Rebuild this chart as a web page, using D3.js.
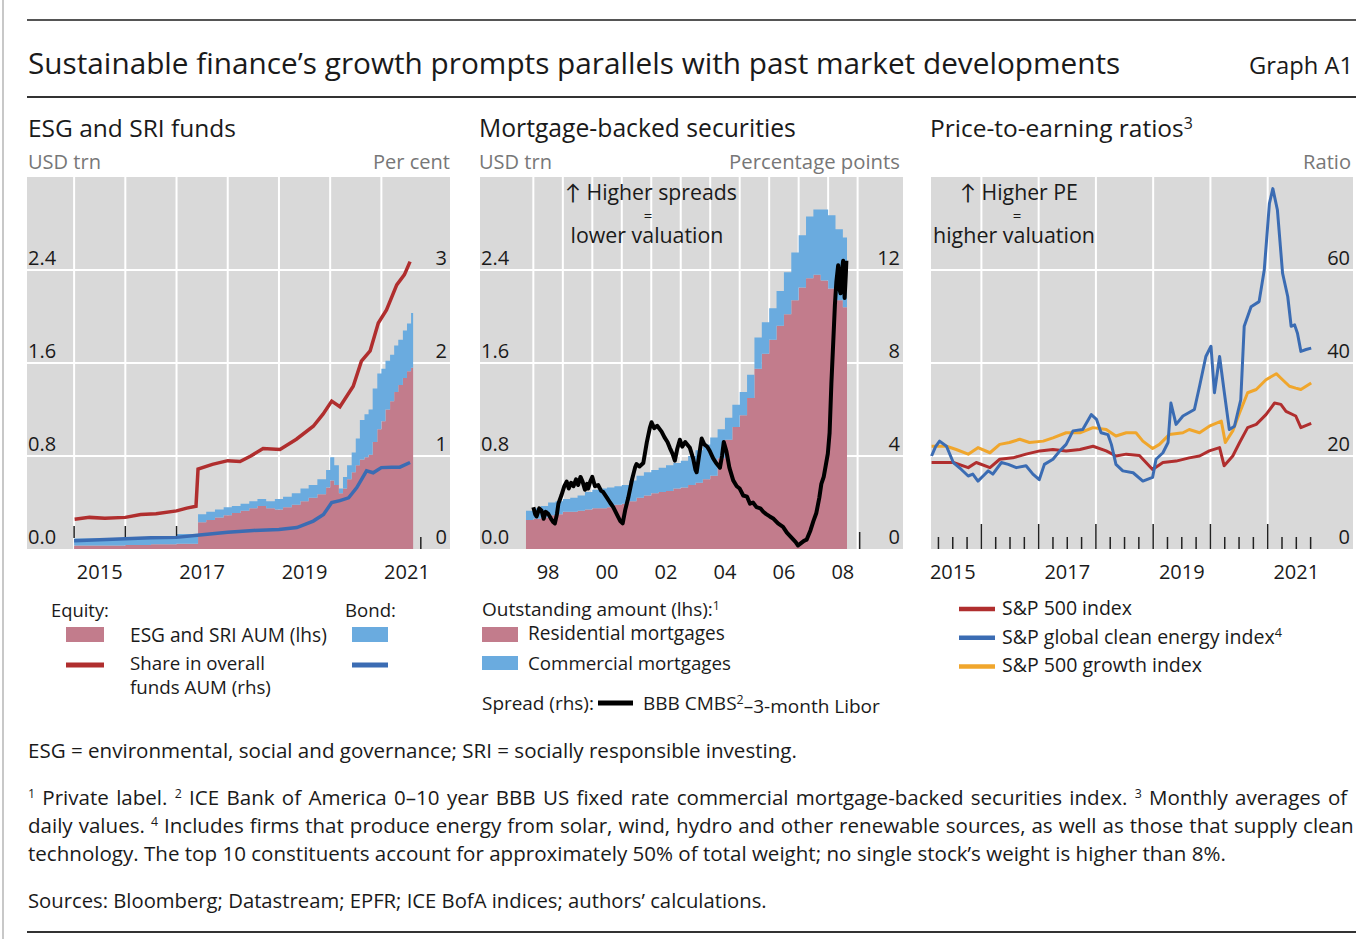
<!DOCTYPE html>
<html>
<head>
<meta charset="utf-8">
<script src="https://cdn.jsdelivr.net/npm/d3@7"></script>
<style>
  body { margin: 0; background: #fff; }
  svg text { font-family: "Open Sans", Lato, sans-serif; fill: #1a1a1a; }
</style>
</head>
<body>
<svg id="chart" width="1368" height="939"></svg>
<script>

// ---------- ESG and SRI funds (USD trn lhs, per cent rhs) ----------
var esgDates = [2015.0, 2015.5, 2016.0, 2016.5, 2017.0, 2017.42, 2017.58, 2017.75, 2017.92, 2018.08,
	2018.25, 2018.42, 2018.58, 2018.75, 2018.92, 2019.08, 2019.25, 2019.42, 2019.58, 2019.75,
	2019.92, 2020.0, 2020.08, 2020.17, 2020.25, 2020.33, 2020.42, 2020.5, 2020.58, 2020.67,
	2020.75, 2020.83, 2020.92, 2021.0, 2021.08, 2021.17, 2021.25, 2021.33, 2021.42, 2021.5, 2021.58];
var esgEnd = 2021.62;
var equityAum = [0.03, 0.03, 0.035, 0.04, 0.045, 0.23, 0.25, 0.27, 0.29, 0.31,
	0.33, 0.35, 0.37, 0.35, 0.34, 0.36, 0.38, 0.41, 0.44, 0.47,
	0.53, 0.59, 0.55, 0.48, 0.52, 0.60, 0.66, 0.72, 0.77, 0.79,
	0.81, 0.92, 1.03, 1.10, 1.20, 1.27, 1.35, 1.41, 1.47, 1.53, 1.56];
var bondAum = [0.06, 0.06, 0.065, 0.07, 0.085, 0.07, 0.07, 0.07, 0.07, 0.06,
	0.06, 0.06, 0.06, 0.06, 0.09, 0.09, 0.10, 0.11, 0.11, 0.13,
	0.15, 0.20, 0.17, 0.04, 0.10, 0.12, 0.17, 0.23, 0.34, 0.37,
	0.39, 0.46, 0.48, 0.45, 0.42, 0.40, 0.40, 0.39, 0.41, 0.41, 0.47];
var equityShare = [[2015.01, 0.32], [2015.3, 0.34], [2015.6, 0.33], [2016.0, 0.34], [2016.3, 0.37],
	[2016.6, 0.38], [2017.0, 0.41], [2017.2, 0.44], [2017.38, 0.46], [2017.42, 0.86], [2017.7, 0.91],
	[2018.0, 0.95], [2018.24, 0.94], [2018.45, 1.0], [2018.69, 1.08], [2019.02, 1.07], [2019.34, 1.18],
	[2019.67, 1.32], [2019.86, 1.45], [2020.03, 1.59], [2020.19, 1.53], [2020.45, 1.75], [2020.61, 2.02],
	[2020.78, 2.13], [2020.94, 2.43], [2021.1, 2.57], [2021.3, 2.84], [2021.45, 2.95], [2021.56, 3.09]];
var bondShare = [[2015.0, 0.09], [2015.5, 0.10], [2016.0, 0.11], [2016.5, 0.12], [2017.0, 0.125],
	[2017.45, 0.15], [2018.0, 0.18], [2018.5, 0.20], [2019.0, 0.21], [2019.35, 0.23], [2019.67, 0.30],
	[2019.87, 0.37], [2020.03, 0.50], [2020.19, 0.52], [2020.36, 0.55], [2020.52, 0.66], [2020.71, 0.84],
	[2020.84, 0.82], [2021.0, 0.875], [2021.2, 0.88], [2021.36, 0.88], [2021.56, 0.93]];

// ---------- Mortgage-backed securities (USD trn lhs, pp rhs) ----------
var mbsDates = [1997.75, 1998.0, 1998.25, 1998.5, 1998.75, 1999.0, 1999.25, 1999.5, 1999.75, 2000.0,
	2000.25, 2000.5, 2000.75, 2001.0, 2001.25, 2001.5, 2001.75, 2002.0, 2002.25, 2002.5,
	2002.75, 2003.0, 2003.25, 2003.5, 2003.75, 2004.0, 2004.25, 2004.5, 2004.75, 2005.0,
	2005.25, 2005.5, 2005.75, 2006.0, 2006.25, 2006.5, 2006.75, 2007.0, 2007.25, 2007.5,
	2007.75, 2008.0, 2008.25, 2008.5];
var mbsEnd = 2008.64;
var residentialMbs = [0.25, 0.26, 0.27, 0.29, 0.30, 0.32, 0.32, 0.33, 0.34, 0.35,
	0.35, 0.36, 0.38, 0.39, 0.41, 0.44, 0.46, 0.48, 0.49, 0.50,
	0.52, 0.53, 0.55, 0.57, 0.60, 0.63, 0.78, 0.94, 1.05, 1.15,
	1.30, 1.55, 1.68, 1.80, 1.92, 2.02, 2.14, 2.25, 2.33, 2.36,
	2.31, 2.24, 2.14, 2.08];
var commercialMbs = [0.08, 0.09, 0.10, 0.11, 0.11, 0.11, 0.12, 0.13, 0.15, 0.16,
	0.17, 0.17, 0.16, 0.16, 0.18, 0.19, 0.20, 0.20, 0.21, 0.22,
	0.22, 0.23, 0.25, 0.28, 0.30, 0.33, 0.25, 0.19, 0.19, 0.20,
	0.20, 0.27, 0.27, 0.27, 0.30, 0.36, 0.41, 0.45, 0.53, 0.56,
	0.61, 0.63, 0.61, 0.60];
var cmbsSpread = [[1998.0, 1.8], [1998.06, 1.5], [1998.11, 1.4], [1998.2, 1.75], [1998.28, 1.65],
	[1998.35, 1.3], [1998.42, 1.6], [1998.51, 1.5], [1998.6, 1.3], [1998.68, 1.15], [1998.73, 1.1],
	[1998.8, 1.5], [1998.85, 1.95], [1998.95, 2.3], [1999.05, 2.7], [1999.13, 2.9], [1999.2, 2.6],
	[1999.28, 2.85], [1999.36, 2.7], [1999.45, 3.0], [1999.52, 2.75], [1999.6, 3.1], [1999.67, 2.9],
	[1999.75, 2.55], [1999.82, 2.8], [1999.86, 2.6], [1999.93, 2.9], [2000.0, 3.1], [2000.09, 2.7],
	[2000.2, 2.75], [2000.3, 2.5], [2000.37, 2.45], [2000.5, 2.2], [2000.6, 2.0], [2000.71, 1.8],
	[2000.85, 1.45], [2000.95, 1.2], [2001.03, 1.1], [2001.12, 1.7], [2001.22, 2.2], [2001.35, 3.0],
	[2001.45, 3.5], [2001.5, 3.65], [2001.6, 3.55], [2001.73, 3.7], [2001.85, 4.6], [2001.95, 5.2],
	[2002.01, 5.45], [2002.1, 5.2], [2002.2, 5.3], [2002.35, 5.05], [2002.45, 4.8], [2002.55, 4.6],
	[2002.63, 4.35], [2002.72, 4.1], [2002.8, 3.8], [2002.88, 4.3], [2002.97, 4.7], [2003.05, 4.4],
	[2003.15, 4.6], [2003.31, 4.35], [2003.42, 3.9], [2003.5, 3.4], [2003.54, 3.3], [2003.62, 4.0],
	[2003.71, 4.75], [2003.8, 4.5], [2003.9, 4.4], [2003.99, 4.2], [2004.1, 3.9], [2004.2, 3.7],
	[2004.33, 3.5], [2004.4, 4.0], [2004.46, 4.6], [2004.55, 4.2], [2004.65, 3.5], [2004.78, 2.95],
	[2004.9, 2.7], [2005.0, 2.6], [2005.12, 2.3], [2005.25, 2.25], [2005.35, 1.95], [2005.45, 2.0],
	[2005.57, 1.8], [2005.7, 1.75], [2005.8, 1.6], [2005.9, 1.5], [2006.02, 1.4], [2006.15, 1.3],
	[2006.3, 1.1], [2006.47, 0.95], [2006.6, 0.7], [2006.75, 0.5], [2006.9, 0.3], [2006.98, 0.15],
	[2007.08, 0.25], [2007.18, 0.35], [2007.27, 0.4], [2007.4, 0.8], [2007.5, 1.2], [2007.6, 1.55],
	[2007.7, 2.2], [2007.77, 2.8], [2007.85, 3.1], [2007.92, 3.6], [2007.99, 4.1], [2008.05, 5.0],
	[2008.11, 7.1], [2008.17, 8.8], [2008.23, 10.5], [2008.28, 11.5], [2008.34, 12.2], [2008.38, 11.2],
	[2008.42, 11.0], [2008.47, 12.0], [2008.51, 12.4], [2008.56, 10.8], [2008.6, 11.8], [2008.62, 12.4]];

// ---------- Price-to-earning ratios ----------
var sp500Pe = [[2015.13, 18.6], [2015.51, 18.6], [2015.77, 17.5], [2015.91, 18.6], [2016.15, 17.5],
	[2016.32, 19.3], [2016.55, 19.6], [2016.78, 20.4], [2017.02, 21.1], [2017.25, 21.4], [2017.48, 21.1],
	[2017.72, 21.4], [2017.95, 22.1], [2018.18, 21.1], [2018.35, 20.0], [2018.53, 20.4], [2018.76, 20.1],
	[2018.99, 17.1], [2019.17, 18.6], [2019.4, 18.9], [2019.63, 19.6], [2019.81, 20.0], [2019.98, 21.1],
	[2020.16, 21.8], [2020.24, 17.9], [2020.39, 20.0], [2020.51, 22.9], [2020.65, 26.1], [2020.8, 26.8],
	[2020.97, 28.9], [2021.12, 31.4], [2021.23, 31.1], [2021.32, 29.6], [2021.49, 28.6], [2021.58, 26.1],
	[2021.76, 27.0]];
var cleanEnergyPe = [[2015.13, 20.0], [2015.2, 22.0], [2015.27, 23.2], [2015.39, 22.1], [2015.51, 18.6],
	[2015.65, 17.1], [2015.77, 15.7], [2015.85, 16.1], [2015.94, 14.6], [2016.03, 15.7], [2016.12, 16.8],
	[2016.2, 16.1], [2016.35, 18.6], [2016.47, 18.2], [2016.61, 17.5], [2016.78, 17.9], [2016.9, 16.1],
	[2017.01, 14.9], [2017.1, 18.2], [2017.25, 19.3], [2017.37, 21.1], [2017.48, 22.5], [2017.6, 25.4],
	[2017.77, 25.7], [2017.92, 28.9], [2018.01, 27.9], [2018.09, 25.0], [2018.21, 24.6], [2018.27, 22.5],
	[2018.35, 18.2], [2018.47, 16.8], [2018.65, 16.4], [2018.82, 14.6], [2018.99, 15.4], [2019.05, 19.3],
	[2019.17, 20.7], [2019.26, 22.9], [2019.31, 31.4], [2019.4, 26.8], [2019.52, 28.6], [2019.72, 30.0],
	[2019.81, 35.0], [2019.92, 41.4], [2020.01, 43.6], [2020.07, 33.6], [2020.16, 41.4], [2020.24, 33.9],
	[2020.33, 25.7], [2020.42, 26.4], [2020.53, 32.1], [2020.59, 47.9], [2020.71, 52.1], [2020.85, 53.2],
	[2020.94, 60.0], [2021.03, 74.3], [2021.09, 77.5], [2021.17, 72.9], [2021.26, 59.3], [2021.35, 54.3],
	[2021.41, 47.9], [2021.47, 48.2], [2021.52, 46.4], [2021.58, 42.5], [2021.67, 42.9], [2021.76, 43.2]];
var sp500GrowthPe = [[2015.13, 22.1], [2015.39, 22.1], [2015.56, 21.4], [2015.77, 20.4], [2015.94, 21.8],
	[2016.15, 20.7], [2016.32, 22.5], [2016.49, 22.9], [2016.67, 23.6], [2016.84, 22.9], [2017.08, 23.2],
	[2017.25, 23.9], [2017.48, 25.0], [2017.72, 25.0], [2017.95, 26.1], [2018.18, 25.7], [2018.35, 24.3],
	[2018.53, 25.0], [2018.7, 25.0], [2018.82, 23.2], [2018.99, 21.6], [2019.11, 22.5], [2019.28, 24.6],
	[2019.52, 25.0], [2019.63, 25.7], [2019.81, 25.0], [2019.98, 26.4], [2020.19, 27.5], [2020.26, 22.9],
	[2020.39, 25.4], [2020.51, 29.3], [2020.65, 33.6], [2020.8, 34.3], [2020.97, 36.4], [2021.15, 37.7],
	[2021.26, 36.4], [2021.38, 35.0], [2021.49, 34.6], [2021.58, 34.3], [2021.76, 35.7]];

// axis ticks / labels
var usdTicks = [0, 0.8, 1.6, 2.4];
var shareTicks = [0, 1, 2, 3];
var spreadTicks = [0, 4, 8, 12];
var peTicks = [0, 20, 40, 60];
var esgYearLabels = ["2015", "2017", "2019", "2021"];
var mbsYearLabels = ["98", "00", "02", "04", "06", "08"];
var peYearLabels = ["2015", "2017", "2019", "2021"];

var colors = {
	pink: "#c27c8c", lightBlue: "#6aabdf", red: "#b02e2e", blue: "#3b6cb3",
	orange: "#f0a62c", bg: "#d9d9d9", ink: "#1a1a1a", unit: "#777"
};

var svg = d3.select("#chart");
var TOP = 177, BOTTOM = 549;

function txt(x, y, s, size, anchor, fill) {
	return svg.append("text").attr("x", x).attr("y", y).attr("font-size", size)
		.attr("text-anchor", anchor || "start").style("fill", fill || colors.ink).text(s);
}
function sup(t, s) {
	t.append("tspan").attr("font-size", "0.65em").attr("dy", "-0.5em").text(s);
	return t;
}
// scale the font so the text takes the same width as in the print
function fit(t, w) {
	var cur = t.node().getComputedTextLength();
	t.attr("font-size", +t.attr("font-size") * w / cur);
	return t;
}
// spread the words so a footnote line fills the column
function justify(t, w) {
	var cur = t.node().getComputedTextLength();
	var spaces = (t.text().match(/ /g) || []).length;
	t.attr("word-spacing", (w - cur) / spaces);
	return t;
}

// frame: page rules
svg.append("line").attr("x1", 3).attr("x2", 3).attr("y1", 0).attr("y2", 939).attr("stroke", "#c8c8c8").attr("stroke-width", 2);
[20, 97, 932].forEach(function (y) {
	svg.append("line").attr("x1", 27).attr("x2", 1356).attr("y1", y).attr("y2", y)
		.attr("stroke", y == 20 ? "#555" : "#333").attr("stroke-width", 2);
});

fit(txt(28, 74, "Sustainable finance\u2019s growth prompts parallels with past market developments", 30), 1093);
fit(txt(1353, 74, "Graph A1", 24, "end"), 104);

// generic plot panel
function plotPanel(left, right, xDomain, yDomainL, yDomainR) {
	var x = d3.scaleLinear().domain(xDomain).range([left, right]);
	var yL = d3.scaleLinear().domain(yDomainL).range([BOTTOM, TOP]);
	var yR = d3.scaleLinear().domain(yDomainR).range([BOTTOM, TOP]);
	var g = svg.append("g");
	g.append("rect").attr("x", left).attr("y", TOP).attr("width", right - left).attr("height", BOTTOM - TOP)
		.attr("fill", colors.bg);
	return { x: x, yL: yL, yR: yR, g: g, left: left, right: right };
}
function grid(p, years, yVals) {
	p.g.selectAll(null).data(years).enter().append("line")
		.attr("x1", p.x).attr("x2", p.x).attr("y1", TOP).attr("y2", BOTTOM)
		.attr("stroke", "#fff").attr("stroke-width", 2);
	p.g.selectAll(null).data(yVals).enter().append("line")
		.attr("x1", p.left).attr("x2", p.right).attr("y1", p.yL).attr("y2", p.yL)
		.attr("stroke", "#fff").attr("stroke-width", 2);
}
function axisLabels(p, leftTicks, rightTicks, rightScale, yearLabels, yearPos) {
	if (leftTicks) leftTicks.forEach(function (v) {
		txt(p.left + 1, p.yL(v) - 5, d3.format(".1f")(v), 20);
	});
	rightTicks.forEach(function (v) {
		txt(p.right - 3, rightScale(v) - 5, v, 20, "end");
	});
	yearLabels.forEach(function (s, i) {
		txt(p.x(yearPos[i]), 579, s, 20, "middle");
	});
}

// ===== Panel 1 =====
fit(txt(28, 137, "ESG and SRI funds", 24), 208);
fit(txt(28, 169, "USD trn", 18, "start", colors.unit), 73);
fit(txt(450, 169, "Per cent", 18, "end", colors.unit), 77);

var p1 = plotPanel(27, 450, [2014.08, 2022.34], [0, 3.2], [0, 4]);
grid(p1, d3.range(2015, 2022), [0.8, 1.6, 2.4]);

var esgRows = esgDates.map(function (d, i) { return { date: d, equity: equityAum[i], bond: bondAum[i] }; });
esgRows.push({ date: esgEnd, equity: equityAum[equityAum.length - 1], bond: bondAum[bondAum.length - 1] });
var esgStack = d3.stack().keys(["equity", "bond"])(esgRows);
var esgArea = d3.area().curve(d3.curveStepAfter)
	.x(function (d) { return p1.x(d.data.date); })
	.y0(function (d) { return p1.yL(d[0]); })
	.y1(function (d) { return p1.yL(d[1]); });
p1.g.selectAll(null).data(esgStack).enter().append("path")
	.attr("d", esgArea)
	.attr("fill", function (d) { return d.key == "equity" ? colors.pink : colors.lightBlue; });

// stray axis ticks
[2015, 2016, 2017].forEach(function (yr) {
	p1.g.append("line").attr("x1", p1.x(yr)).attr("x2", p1.x(yr)).attr("y1", 526).attr("y2", 538)
		.attr("stroke", "#222").attr("stroke-width", 1.5);
});
p1.g.append("line").attr("x1", p1.x(2021.77)).attr("x2", p1.x(2021.77)).attr("y1", 537).attr("y2", 549)
	.attr("stroke", "#222").attr("stroke-width", 1.5);

var shareLine = d3.line()
	.x(function (d) { return p1.x(d[0]); })
	.y(function (d) { return p1.yR(d[1]); });
p1.g.append("path").attr("d", shareLine(bondShare)).attr("fill", "none")
	.attr("stroke", colors.blue).attr("stroke-width", 3.5);
p1.g.append("path").attr("d", shareLine(equityShare)).attr("fill", "none")
	.attr("stroke", colors.red).attr("stroke-width", 3.5);

axisLabels(p1, usdTicks, shareTicks, p1.yR, esgYearLabels, [2015.5, 2017.5, 2019.5, 2021.5]);

// legend panel 1
fit(txt(51, 617, "Equity:", 18), 58);
fit(txt(345, 617, "Bond:", 18), 51);
svg.append("rect").attr("x", 66).attr("y", 627).attr("width", 38).attr("height", 15).attr("fill", colors.pink);
svg.append("rect").attr("x", 352).attr("y", 627).attr("width", 36).attr("height", 15).attr("fill", colors.lightBlue);
fit(txt(130, 642, "ESG and SRI AUM (lhs)", 18), 197);
svg.append("line").attr("x1", 66).attr("x2", 104).attr("y1", 665).attr("y2", 665).attr("stroke", colors.red).attr("stroke-width", 5);
svg.append("line").attr("x1", 352).attr("x2", 388).attr("y1", 665).attr("y2", 665).attr("stroke", colors.blue).attr("stroke-width", 5);
fit(txt(130, 670, "Share in overall", 18), 135);
fit(txt(130, 694, "funds AUM (rhs)", 18), 141);

// ===== Panel 2 =====
fit(txt(479, 137, "Mortgage-backed securities", 24), 317);
fit(txt(479, 169, "USD trn", 18, "start", colors.unit), 73);
fit(txt(900, 169, "Percentage points", 18, "end", colors.unit), 171);

var p2 = plotPanel(480, 903, [1996.19, 2010.54], [0, 3.2], [0, 16]);
grid(p2, d3.range(1998, 2010), [0.8, 1.6, 2.4]);

var mbsRows = mbsDates.map(function (d, i) { return { date: d, res: residentialMbs[i], com: commercialMbs[i] }; });
mbsRows.push({ date: mbsEnd, res: residentialMbs[residentialMbs.length - 1], com: commercialMbs[commercialMbs.length - 1] });
var mbsStack = d3.stack().keys(["res", "com"])(mbsRows);
var mbsArea = d3.area().curve(d3.curveStepAfter)
	.x(function (d) { return p2.x(d.data.date); })
	.y0(function (d) { return p2.yL(d[0]); })
	.y1(function (d) { return p2.yL(d[1]); });
p2.g.selectAll(null).data(mbsStack).enter().append("path")
	.attr("d", mbsArea)
	.attr("fill", function (d) { return d.key == "res" ? colors.pink : colors.lightBlue; });

p2.g.append("line").attr("x1", p2.x(2009.07)).attr("x2", p2.x(2009.07)).attr("y1", 532).attr("y2", 549)
	.attr("stroke", "#222").attr("stroke-width", 1.5);

var spreadLine = d3.line()
	.x(function (d) { return p2.x(d[0]); })
	.y(function (d) { return p2.yR(d[1]); });
p2.g.append("path").attr("d", spreadLine(cmbsSpread)).attr("fill", "none")
	.attr("stroke", "#000").attr("stroke-width", 4).attr("stroke-linejoin", "round");

axisLabels(p2, usdTicks, spreadTicks, p2.yR, mbsYearLabels, [1998.5, 2000.5, 2002.5, 2004.5, 2006.5, 2008.5]);

fit(txt(651, 200, "\u2191 Higher spreads", 20, "middle"), 172);
txt(648, 221, "=", 15, "middle");
fit(txt(647, 243, "lower valuation", 20, "middle"), 153);

// legend panel 2
fit(sup(txt(482, 616, "Outstanding amount (lhs):", 18), "1"), 238);
svg.append("rect").attr("x", 482).attr("y", 627).attr("width", 36).attr("height", 15).attr("fill", colors.pink);
fit(txt(528, 640, "Residential mortgages", 18), 197);
svg.append("rect").attr("x", 482).attr("y", 656).attr("width", 36).attr("height", 14).attr("fill", colors.lightBlue);
fit(txt(528, 670, "Commercial mortgages", 18), 203);
fit(txt(482, 710, "Spread (rhs):", 18), 112);
svg.append("line").attr("x1", 598).attr("x2", 633).attr("y1", 703).attr("y2", 703).attr("stroke", "#000").attr("stroke-width", 5);
var lib = txt(643, 710, "BBB CMBS", 18);
sup(lib, "2");
lib.append("tspan").attr("dy", "0.5em").text("\u20133-month Libor");
fit(lib, 237);

// ===== Panel 3 =====
fit(sup(txt(930, 137, "Price-to-earning ratios", 24), "3"), 263);
fit(txt(1351, 169, "Ratio", 18, "end", colors.unit), 48);

var p3 = plotPanel(931, 1353, [2015.12, 2022.49], [0, 80], [0, 80]);
grid(p3, d3.range(2016, 2022), [20, 40, 60]);

// quarterly ticks along the bottom
var quarterTicks = d3.range(2015.25, 2021.8, 0.25);
p3.g.selectAll(null).data(quarterTicks).enter().append("line")
	.attr("x1", p3.x).attr("x2", p3.x)
	.attr("y1", function (d) { return d % 1 == 0 ? 524 : 537; })
	.attr("y2", BOTTOM)
	.attr("stroke", "#222").attr("stroke-width", 1.5);

var peLine = d3.line()
	.x(function (d) { return p3.x(d[0]); })
	.y(function (d) { return p3.yL(d[1]); });
[[sp500GrowthPe, colors.orange], [sp500Pe, colors.red], [cleanEnergyPe, colors.blue]].forEach(function (s) {
	p3.g.append("path").attr("d", peLine(s[0])).attr("fill", "none")
		.attr("stroke", s[1]).attr("stroke-width", 3).attr("stroke-linejoin", "round");
});

axisLabels(p3, null, peTicks, p3.yL, peYearLabels, [2015.5, 2017.5, 2019.5, 2021.5]);

fit(txt(1019, 200, "\u2191 Higher PE", 20, "middle"), 118);
txt(1017, 221, "=", 15, "middle");
fit(txt(1014, 243, "higher valuation", 20, "middle"), 162);

// legend panel 3
var peLegend = [["S&P 500 index", colors.red, null, 130], ["S&P global clean energy index", colors.blue, "4", 280],
	["S&P 500 growth index", colors.orange, null, 200]];
peLegend.forEach(function (d, i) {
	var y = 609 + i * 28.7;
	svg.append("line").attr("x1", 959).attr("x2", 995).attr("y1", y).attr("y2", y).attr("stroke", d[1]).attr("stroke-width", 4.5);
	var t = txt(1002, y + 6, d[0], 18);
	if (d[2]) sup(t, d[2]);
	fit(t, d[3]);
});

// ===== Notes =====
fit(txt(28, 758, "ESG = environmental, social and governance; SRI = socially responsible investing.", 18), 769);

var n3 = fit(txt(28, 861, "technology. The top 10 constituents account for approximately 50% of total weight; no single stock\u2019s weight is higher than 8%.", 18), 1199);
var noteSize = +n3.attr("font-size");

var n1 = svg.append("text").attr("x", 28).attr("y", 805).attr("font-size", noteSize);
n1.append("tspan").attr("font-size", "0.6em").attr("dy", -7).text("1");
n1.append("tspan").attr("dy", 7).text(" Private label.   ");
n1.append("tspan").attr("font-size", "0.6em").attr("dy", -7).text("2");
n1.append("tspan").attr("dy", 7).text(" ICE Bank of America 0\u201310 year BBB US fixed rate commercial mortgage-backed securities index.   ");
n1.append("tspan").attr("font-size", "0.6em").attr("dy", -7).text("3");
n1.append("tspan").attr("dy", 7).text(" Monthly averages of");
justify(n1, 1327);

var n2 = svg.append("text").attr("x", 28).attr("y", 833).attr("font-size", noteSize);
n2.append("tspan").text("daily values.   ");
n2.append("tspan").attr("font-size", "0.6em").attr("dy", -7).text("4");
n2.append("tspan").attr("dy", 7).text(" Includes firms that produce energy from solar, wind, hydro and other renewable sources, as well as those that supply clean");
justify(n2, 1327);

fit(txt(28, 908, "Sources: Bloomberg; Datastream; EPFR; ICE BofA indices; authors\u2019 calculations.", 18), 739);

</script>
</body>
</html>
